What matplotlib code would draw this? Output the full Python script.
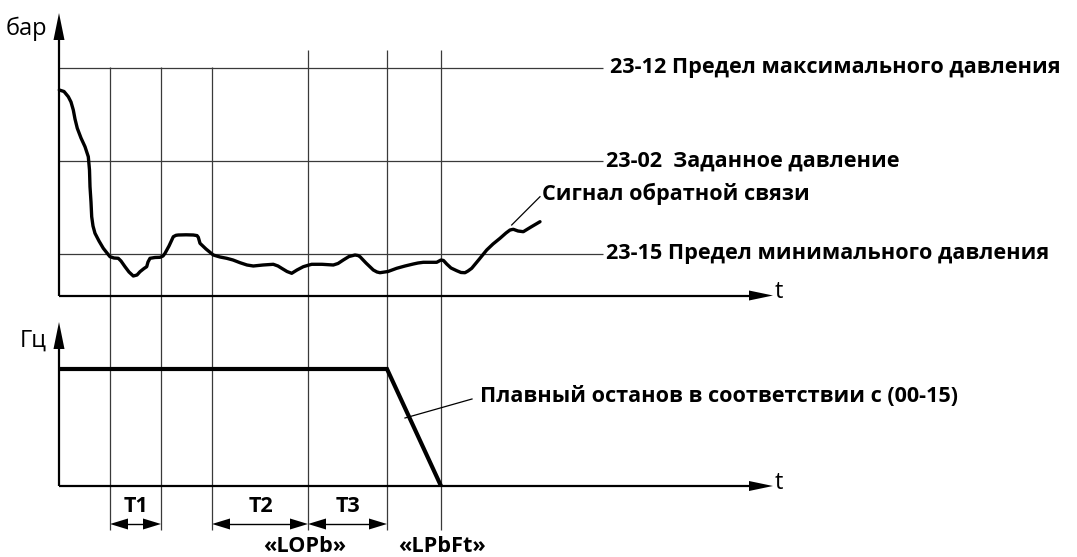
import matplotlib
matplotlib.use("Agg")
import matplotlib.pyplot as plt
import numpy as np

# ---------------- data (diagram coordinates: x = time, y = level, pixel-like units) --------------
# feedback pressure signal (traced)
fb_t = [59.3, 64, 68.3, 71, 73.3, 75, 77.3, 81, 85, 88.3, 89.5, 90, 91, 91.7, 93, 95, 99, 103.3,
        107, 110, 114, 118.3, 121, 125, 129, 133.3, 137, 140, 144, 146.7, 148, 150, 155, 160,
        163, 165, 169, 173.3, 176, 178.3, 186, 193.3, 197, 198.3, 200, 206, 213.3, 220, 226.7,
        233, 240, 247, 253.3, 263, 273.3, 278, 281.7, 287, 291.7, 297, 303.3, 308, 311.7, 322,
        333.3, 338, 343.3, 349, 355, 358, 360, 366, 373.3, 377, 380, 388, 396.7, 405, 413.3,
        418, 423.3, 430, 436.7, 441, 443.5, 446.7, 451, 456.7, 461, 465, 468, 471.7, 479,
        486.7, 493, 500, 506, 510, 513.3, 518, 523.3, 531, 540]
fb_y = [90, 91.5, 96.7, 102, 110, 119, 128.3, 138, 146.7, 156.7, 170, 186.7, 202, 216.7, 226,
        233.3, 241, 248.3, 253, 256.7, 258, 258.3, 261, 266.7, 272, 276, 275, 271.7, 268.5,
        266.7, 262, 258.3, 257.5, 257.3, 256, 253.3, 246, 236.7, 235.3, 235, 234.8, 235, 235.6,
        237.3, 243.3, 249, 255, 257, 258.3, 260, 262.7, 265, 266, 265, 264.3, 266, 268.3, 271.5,
        273.3, 270, 266.7, 265.3, 264.3, 264.3, 265, 263.5, 260, 256.5, 255, 255.5, 256.7, 263,
        270, 272, 272.7, 271.5, 268.3, 266, 264, 263, 262.3, 262.3, 262.3, 260, 260.5, 264, 268,
        270.7, 272.5, 272.7, 271, 268.3, 259.5, 250, 244, 238.3, 233, 230, 229.3, 231, 231.7,
        227, 221.7]

# output frequency: constant, then ramp down to zero
fr_t = [59, 387, 441]
fr_y = [369, 369, 486]

# event times (vertical reference lines) and their top ends
event_t = [110, 161, 212, 308, 387, 441]
event_top = [67, 67, 67, 50, 50, 50]
event_bottom = 530

# pressure reference levels
levels = [67.5, 161, 254]
level_labels = ["23-12 Предел максимального давления",
                "23-02  Заданное давление",
                "23-15 Предел минимального давления"]

# dimension intervals
intervals = [(110, 161, "T1"), (212, 308, "T2"), (308, 387, "T3")]
event_labels = [(305, "«LOPb»"), (442, "«LPbFt»")]

# ---------------- figure ----------------
W, H = 1077, 557
fig = plt.figure(figsize=(W / 100, H / 100), dpi=100)
ax = fig.add_axes([0, 0, 1, 1])
ax.set_xlim(0, W)
ax.set_ylim(H, 0)
ax.axis("off")

BOLD = dict(family=["Open Sans", "DejaVu Sans"], fontweight="bold", fontsize=15.6, color="black")
REG = dict(family=["Open Sans", "DejaVu Sans"], fontsize=17, color="black")
thin = dict(color="#3a3a3a", lw=0.9, solid_capstyle="butt")

x0 = 59
top_axis_y, top_tip = 295.5, 13
bot_axis_y, bot_tip = 486, 322
x_tip = 773

# event lines
for t, top in zip(event_t, event_top):
    ax.plot([t, t], [top, event_bottom], **thin)

# level lines
for lv in levels:
    ax.plot([x0, 603], [lv, lv], **thin)
for lv, lab in zip(levels, level_labels):
    ax.text(610 if lv < 100 else 606, lv, lab, va="center", ha="left", **BOLD)

# axes with arrows
def axis_pair(ybase, ytip):
    ax.plot([x0, x0], [ybase, ytip + 20], color="black", lw=1.6, solid_capstyle="butt")
    ax.plot([x0, x_tip - 20], [ybase, ybase], color="black", lw=1.6, solid_capstyle="butt")
    ax.fill([x0 - 5.5, x0 + 5.5, x0], [ytip + 27, ytip + 27, ytip], color="black", lw=0)
    ax.fill([x_tip - 24, x_tip - 24, x_tip], [ybase - 5, ybase + 5, ybase], color="black", lw=0)
    ax.text(x_tip + 2, ybase - 3, "t", va="center", ha="left", **REG)

axis_pair(top_axis_y, top_tip)
axis_pair(bot_axis_y, bot_tip)
ax.text(6, 29, "бар", va="center", ha="left", **REG)
ax.text(20, 341, "Гц", va="center", ha="left", **REG)

# feedback signal
ax.plot(fb_t, fb_y, color="black", lw=2.4, solid_joinstyle="round", solid_capstyle="round")
ax.plot([511.7, 540], [225, 196.7], color="black", lw=0.9)
ax.text(542, 194, "Сигнал обратной связи", va="center", ha="left", **BOLD)

# frequency
ax.plot(fr_t, fr_y, color="black", lw=3.0, solid_joinstyle="miter", solid_capstyle="butt")
ax.plot([405, 472], [418, 399], color="black", lw=0.9)
ax.text(480, 397, "Плавный останов в соответствии с (00-15)", va="center", ha="left", **BOLD)

# dimension arrows
ay = 524
for a, b, lab in intervals:
    ax.plot([a + 10, b - 10], [ay, ay], color="black", lw=1.0)
    ax.fill([a, a + 18, a + 18], [ay, ay - 5.5, ay + 5.5], color="black", lw=0)
    ax.fill([b, b - 18, b - 18], [ay, ay - 5.5, ay + 5.5], color="black", lw=0)
    ax.text((a + b) / 2 + 1, 507, lab, va="center", ha="center", **BOLD)
for t, lab in event_labels:
    ax.text(t, 547, lab, va="center", ha="center", **BOLD)

fig.savefig("out.png", dpi=100)
